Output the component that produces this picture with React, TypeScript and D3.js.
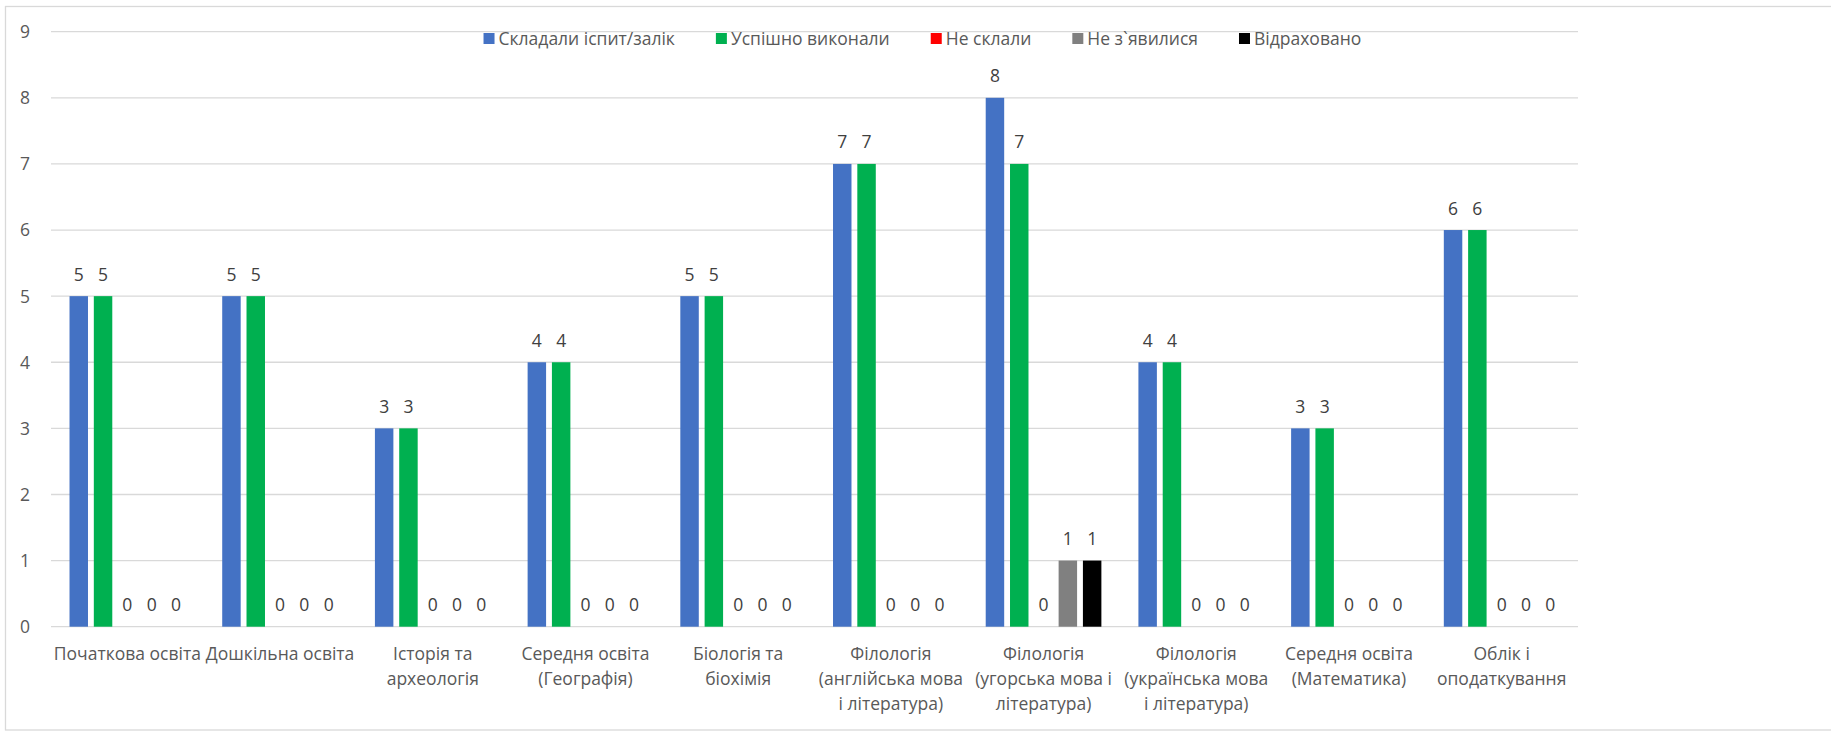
import React, { useEffect, useRef } from "react";
import * as d3 from "d3";

const categories: string[][] = [
  ["Початкова освіта"],
  ["Дошкільна освіта"],
  ["Історія та", "археологія"],
  ["Середня освіта", "(Географія)"],
  ["Біологія та", "біохімія"],
  ["Філологія", "(англійська мова", "і література)"],
  ["Філологія", "(угорська мова і", "література)"],
  ["Філологія", "(українська мова", "і література)"],
  ["Середня освіта", "(Математика)"],
  ["Облік і", "оподаткування"],
];

const seriesNames = ["Складали іспит/залік", "Успішно виконали", "Не склали", "Не з`явилися", "Відраховано"];
const seriesColors = ["#4472C4", "#00B050", "#FF0000", "#808080", "#000000"];

const tookExam = [5, 5, 3, 4, 5, 7, 8, 4, 3, 6];
const passed = [5, 5, 3, 4, 5, 7, 7, 4, 3, 6];
const failed = [0, 0, 0, 0, 0, 0, 0, 0, 0, 0];
const absent = [0, 0, 0, 0, 0, 0, 1, 0, 0, 0];
const expelled = [0, 0, 0, 0, 0, 0, 1, 0, 0, 0];

const yTicks = [0, 1, 2, 3, 4, 5, 6, 7, 8, 9];

const W = 1831;
const H = 731;
const FONT = "'Open Sans', 'Noto Sans', sans-serif";
const FS = 17.5;

export default function App() {
  const ref = useRef<SVGSVGElement | null>(null);

  useEffect(() => {
    const svg = d3.select(ref.current);
    svg.selectAll("*").remove();

    const values = [tookExam, passed, failed, absent, expelled];
    const left = 51, right = 1578, top = 31.7, bottom = 626.7;

    // frame
    svg.append("rect")
      .attr("x", 5.5).attr("y", 6.5)
      .attr("width", 1840).attr("height", 723.5)
      .attr("fill", "#fff").attr("stroke", "#D9D9D9").attr("stroke-width", 1.3);

    const y = d3.scaleLinear().domain([0, 9]).range([bottom, top]);
    const x0 = d3.scaleBand<number>().domain(categories.map((_, i) => i)).range([left, right]);
    const x1 = d3.scaleBand<number>().domain(seriesNames.map((_, i) => i))
      .range([-60.75, 60.75]).paddingInner(0.24).paddingOuter(0.12);

    // gridlines
    svg.append("g").selectAll("line").data(yTicks).join("line")
      .attr("x1", left).attr("x2", right)
      .attr("y1", (d) => y(d)).attr("y2", (d) => y(d))
      .attr("stroke", "#D9D9D9").attr("stroke-width", 1.3);

    // y labels
    svg.append("g").selectAll("text").data(yTicks).join("text")
      .attr("x", 25).attr("y", (d) => y(d) + 6.4)
      .attr("text-anchor", "middle")
      .attr("font-family", FONT).attr("font-size", FS).attr("fill", "#595959")
      .text((d) => String(d));

    // bars
    const groups = svg.append("g").selectAll("g").data(categories.map((_, i) => i)).join("g")
      .attr("transform", (i) => `translate(${x0(i)! + x0.bandwidth() / 2},0)`);

    seriesNames.forEach((_, s) => {
      groups.append("rect")
        .attr("x", x1(s)!)
        .attr("width", x1.bandwidth())
        .attr("y", (i) => y(values[s][i]))
        .attr("height", (i) => bottom - y(values[s][i]))
        .attr("fill", seriesColors[s]);
      groups.append("text")
        .attr("x", x1(s)! + x1.bandwidth() / 2)
        .attr("y", (i) => y(values[s][i]) - 15.5)
        .attr("text-anchor", "middle")
        .attr("font-family", FONT).attr("font-size", FS).attr("fill", "#404040")
        .text((i) => String(values[s][i]));
    });

    // category labels
    groups.each(function (i) {
      const t = d3.select(this).append("text")
        .attr("text-anchor", "middle")
        .attr("font-family", FONT).attr("font-size", FS).attr("fill", "#595959");
      categories[i].forEach((line, k) => {
        t.append("tspan").attr("x", 0).attr("y", 659.5 + k * 25.1).text(line);
      });
    });

    // legend
    const lg = svg.append("g");
    const items = seriesNames.map((name, s) => {
      const g = lg.append("g");
      g.append("rect").attr("x", 0).attr("y", 33).attr("width", 11).attr("height", 11).attr("fill", seriesColors[s]);
      const t = g.append("text").attr("x", 15).attr("y", 44.5)
        .attr("font-family", FONT).attr("font-size", FS).attr("fill", "#595959").text(name);
      const w = (t.node() as SVGTextElement).getComputedTextLength();
      return { g, w: 15 + w };
    });
    const gap = 41;
    const total = d3.sum(items, (d) => d.w) + gap * (items.length - 1);
    let cx = 922.4 - total / 2;
    items.forEach((it) => {
      it.g.attr("transform", `translate(${cx},0)`);
      cx += it.w + gap;
    });
  }, []);

  return (
    <div style={{ position: "absolute", left: 0, top: 0, width: W, height: H, background: "#fff" }}>
      <svg ref={ref} width={W} height={H} style={{ display: "block" }} />
    </div>
  );
}
